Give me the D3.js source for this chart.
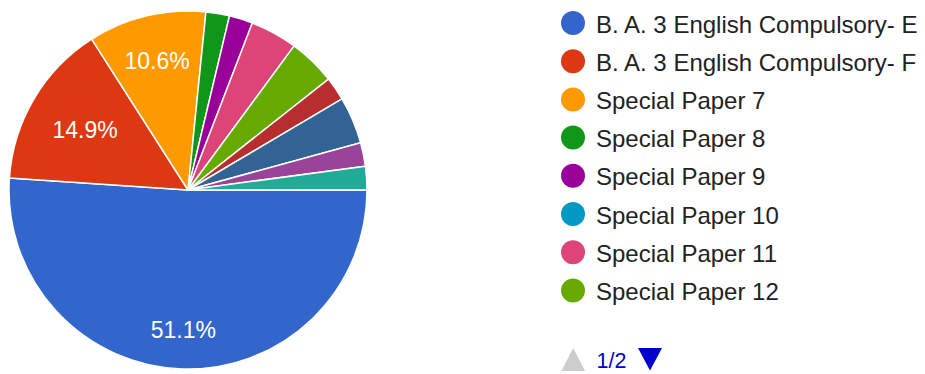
<!DOCTYPE html>
<html>
<head>
<meta charset="utf-8">
<script src="https://cdn.jsdelivr.net/npm/d3@7"></script>
<style>
  html, body { margin: 0; padding: 0; background: #fff; }
  svg { display: block; font-family: Arial, "Liberation Sans", sans-serif; }
</style>
</head>
<body>
<svg id="chart" width="925" height="374"></svg>
<script>
// ---- data ----
const categories = [
  "B. A. 3 English Compulsory- E",
  "B. A. 3 English Compulsory- F",
  "Special Paper 7",
  "Special Paper 8",
  "Special Paper 9",
  "Special Paper 10",
  "Special Paper 11",
  "Special Paper 12",
  "Special Paper 13",
  "Special Paper 14",
  "Special Paper 15",
  "Special Paper 16"
];
const responses = [24, 7, 5, 1, 1, 0, 2, 2, 1, 2, 1, 1];
const colors = ["#3366cc", "#dc3912", "#ff9900", "#109618", "#990099", "#0099c6",
                "#dd4477", "#66aa00", "#b82e2e", "#316395", "#994499", "#22aa99"];
const legendPageSize = 8;
const pageLabel = "1/2";

// ---- layout ----
const svg = d3.select("#chart");
const cx = 188, cy = 190, R = 179;
const labelFont = 23, legendFont = 24, pagerFont = 21.5;

const data = categories.map((c, i) => ({ name: c, value: responses[i], color: colors[i] }));
const total = d3.sum(responses);

const pie = d3.pie().value(d => d.value).sort(null)
  .startAngle(Math.PI / 2).endAngle(Math.PI / 2 + 2 * Math.PI);
const arcs = pie(data);
const arc = d3.arc().innerRadius(0).outerRadius(R);

const g = svg.append("g").attr("transform", `translate(${cx},${cy})`);
g.selectAll("path").data(arcs.filter(a => a.data.value > 0)).join("path")
  .attr("d", arc)
  .attr("fill", d => d.data.color)
  .attr("stroke", "#fff")
  .attr("stroke-width", 1.5)
  .attr("stroke-linejoin", "round");

// labels for slices >= 5%
const fmt = v => (Math.round(v * 1000) / 10).toFixed(1) + "%";
const labelR = R * 0.85;
arcs.filter(a => a.data.value / total >= 0.05).forEach(a => {
  const t = g.append("text")
    .attr("font-size", labelFont)
    .attr("fill", "#fff")
    .attr("text-anchor", "middle")
    .attr("dominant-baseline", "central")
    .text(fmt(a.data.value / total));
  const w = t.node().getComputedTextLength();
  const hw = w / 2, hh = labelFont * 0.716 / 2;
  const mid = (a.startAngle + a.endAngle) / 2;
  const ux = Math.sin(mid), uy = -Math.cos(mid);
  const sx = Math.sign(ux) * hw, sy = Math.sign(uy) * hh;
  const us = ux * sx + uy * sy;
  const d = -us + Math.sqrt(us * us - (sx * sx + sy * sy) + labelR * labelR);
  t.attr("x", d * ux).attr("y", d * uy + 1);
});

// legend
const lx = 573, ly0 = 23, lstep = 38.2;
const leg = svg.append("g");
data.slice(0, legendPageSize).forEach((d, i) => {
  const y = ly0 + i * lstep;
  leg.append("circle").attr("cx", lx).attr("cy", y).attr("r", 12).attr("fill", d.color);
  leg.append("text").attr("x", lx + 23).attr("y", y + 1)
    .attr("dominant-baseline", "central")
    .attr("font-size", legendFont).attr("fill", "#222222")
    .text(d.name);
});

// pager
const py = 359.5;
leg.append("path").attr("d", `M561.5,${py + 11.5}L573.2,${py - 11.5}L585,${py + 11.5}Z`).attr("fill", "#cccccc");
leg.append("text").attr("x", 596.5).attr("y", py + 1).attr("dominant-baseline", "central")
  .attr("font-size", pagerFont).attr("fill", "#0000cc").text(pageLabel);
leg.append("path").attr("d", `M638,${py - 11.5}L662,${py - 11.5}L650,${py + 11}Z`).attr("fill", "#0000cc");
</script>
</body>
</html>
